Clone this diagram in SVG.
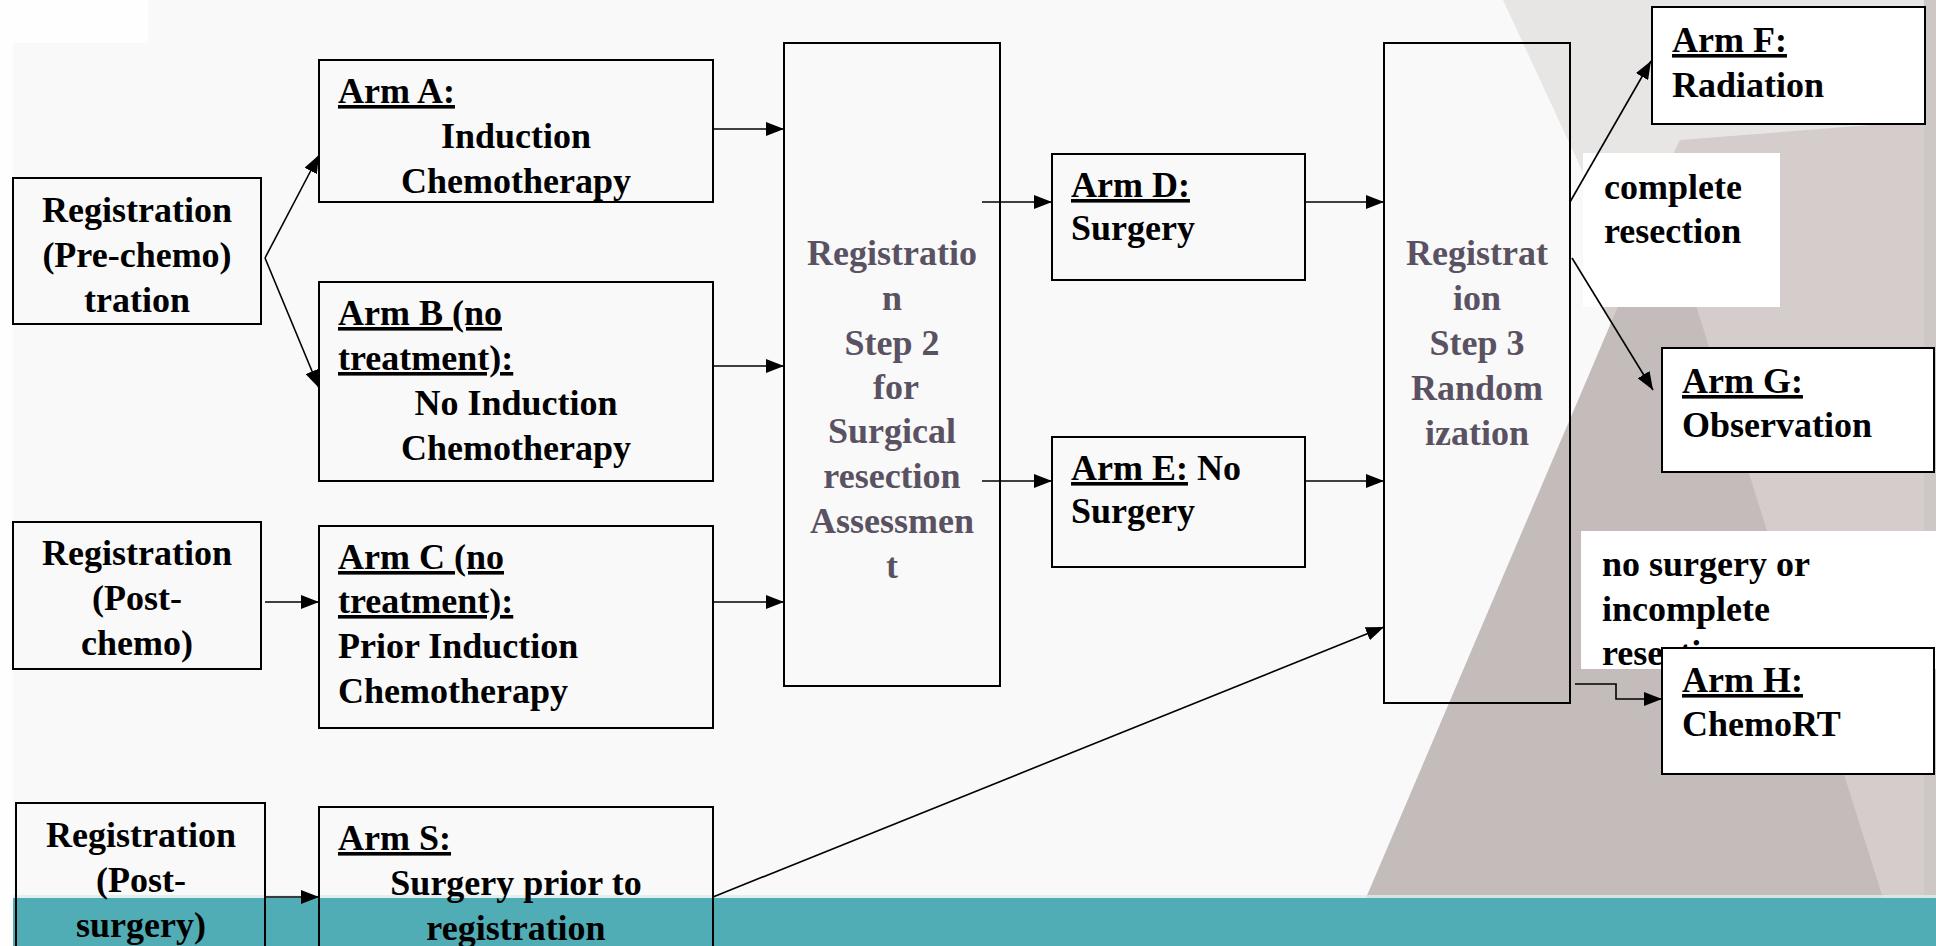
<svg xmlns="http://www.w3.org/2000/svg" width="1936" height="946" viewBox="0 0 1936 946">
<style>
.box{fill:none;stroke:#000;stroke-width:2}
.boxw{fill:#fff;stroke:#000;stroke-width:2}
.lab{fill:#fff;stroke:none}
text{font-family:"Liberation Serif","Times New Roman",serif;font-weight:bold;font-size:36px;fill:#000}
.c{text-anchor:middle}
.g{fill:#5a5262}
.u{text-decoration:underline}
.con{fill:none;stroke:#000;stroke-width:1.6}
</style>
<defs>
<marker id="arr" viewBox="0 0 18 14" refX="18" refY="7" markerWidth="18" markerHeight="14" markerUnits="userSpaceOnUse" orient="auto">
<path d="M0,0 L18,7 L0,14 z" fill="#000"/>
</marker>
</defs>
<g id="background">
<rect x="0" y="0" width="1936" height="946" fill="#f9f9f9"/>
<rect x="0" y="0" width="13" height="946" fill="#fefefe"/>
<rect x="0" y="0" width="148" height="43" fill="#fefefe"/>
<polygon points="1503,0 1936,0 1936,898 1366,898 1631,276" fill="#e8e5e5"/>
<polygon points="1600,300 1680,140 1936,120 1936,898 1883,898" fill="#d4cdcc"/>
<polygon points="1663,201 1883,898 1366,898" fill="#c4bcbb"/>
<rect x="1924" y="0" width="12" height="898" fill="#cdc7c6"/>
<rect x="13" y="898" width="1923" height="48" fill="#50adb5"/>
<rect x="13" y="895" width="1923" height="3" fill="#dcecee" opacity="0.8"/>
</g>
<g id="reg_prechemo">
<rect class="box" x="13" y="178" width="248" height="146"/>
<text class="c" x="137" y="222">Registration</text>
<text class="c" x="137" y="267">(Pre-chemo)</text>
<text class="c" x="137" y="312">tration</text>
</g>
<g id="arm_a">
<rect class="box" x="319" y="60" width="394" height="142"/>
<text class="u" x="338" y="103">Arm A:</text>
<text class="c" x="516" y="148">Induction</text>
<text class="c" x="516" y="193">Chemotherapy</text>
</g>
<g id="arm_b">
<rect class="box" x="319" y="282" width="394" height="199"/>
<text class="u" x="338" y="325">Arm B (no</text>
<text class="u" x="338" y="370">treatment):</text>
<text class="c" x="516" y="415">No Induction</text>
<text class="c" x="516" y="460">Chemotherapy</text>
</g>
<g id="reg_postchemo">
<rect class="box" x="13" y="522" width="248" height="147"/>
<text class="c" x="137" y="565">Registration</text>
<text class="c" x="137" y="610">(Post-</text>
<text class="c" x="137" y="655">chemo)</text>
</g>
<g id="arm_c">
<rect class="box" x="319" y="526" width="394" height="202"/>
<text class="u" x="338" y="569">Arm C (no</text>
<text class="u" x="338" y="613">treatment):</text>
<text x="338" y="658">Prior Induction</text>
<text x="338" y="703">Chemotherapy</text>
</g>
<g id="reg_postsurgery">
<rect class="box" x="16" y="803" width="249" height="160"/>
<text class="c" x="141" y="847">Registration</text>
<text class="c" x="141" y="892">(Post-</text>
<text class="c" x="141" y="937">surgery)</text>
</g>
<g id="arm_s">
<rect class="box" x="319" y="807" width="394" height="160"/>
<text class="u" x="338" y="850">Arm S:</text>
<text class="c" x="516" y="895">Surgery prior to</text>
<text class="c" x="516" y="940">registration</text>
</g>
<g id="step2">
<rect class="box" x="784" y="43" width="216" height="643"/>
<text class="c g" x="892" y="265">Registratio</text>
<text class="c g" x="892" y="310">n</text>
<text class="c g" x="892" y="355">Step 2</text>
<text class="c g" x="896" y="399">for</text>
<text class="c g" x="892" y="443">Surgical</text>
<text class="c g" x="892" y="488">resection</text>
<text class="c g" x="892" y="533">Assessmen</text>
<text class="c g" x="892" y="578">t</text>
</g>
<g id="arm_d">
<rect class="box" x="1052" y="154" width="253" height="126"/>
<text class="u" x="1071" y="197">Arm D:</text>
<text x="1071" y="240">Surgery</text>
</g>
<g id="arm_e">
<rect class="box" x="1052" y="437" width="253" height="130"/>
<text x="1071" y="480"><tspan class="u">Arm E:</tspan> No</text>
<text x="1071" y="523">Surgery</text>
</g>
<g id="step3">
<rect class="box" x="1384" y="43" width="186" height="660"/>
<text class="c g" x="1477" y="265">Registrat</text>
<text class="c g" x="1477" y="310">ion</text>
<text class="c g" x="1477" y="355">Step 3</text>
<text class="c g" x="1477" y="400">Random</text>
<text class="c g" x="1477" y="445">ization</text>
</g>
<g id="label_complete">
<rect class="lab" x="1583" y="153" width="197" height="154"/>
<text x="1604" y="199">complete</text>
<text x="1604" y="243">resection</text>
</g>
<g id="arm_f">
<rect class="boxw" x="1652" y="7" width="273" height="117"/>
<text class="u" x="1672" y="52">Arm F:</text>
<text x="1672" y="97">Radiation</text>
</g>
<g id="arm_g">
<rect class="boxw" x="1662" y="348" width="272" height="124"/>
<text class="u" x="1682" y="393">Arm G:</text>
<text x="1682" y="437">Observation</text>
</g>
<g id="label_nosurgery">
<rect class="lab" x="1581" y="531" width="355" height="138"/>
<text x="1602" y="576">no surgery or</text>
<text x="1602" y="621">incomplete</text>
<text x="1602" y="665">resection</text>
</g>
<g id="arm_h">
<rect class="boxw" x="1662" y="648" width="272" height="126"/>
<text class="u" x="1682" y="692">Arm H:</text>
<text x="1682" y="736">ChemoRT</text>
</g>
<g id="connectors">
<path class="con" d="M265,258 L319,155" marker-end="url(#arr)"/>
<path class="con" d="M265,258 L319,388" marker-end="url(#arr)"/>
<path class="con" d="M713,129 L784,129" marker-end="url(#arr)"/>
<path class="con" d="M713,366 L784,366" marker-end="url(#arr)"/>
<path class="con" d="M265,602 L319,602" marker-end="url(#arr)"/>
<path class="con" d="M713,602 L784,602" marker-end="url(#arr)"/>
<path class="con" d="M265,897 L319,897" marker-end="url(#arr)"/>
<path class="con" d="M713,897 L1384,627" marker-end="url(#arr)"/>
<path class="con" d="M982,202 L1052,202" marker-end="url(#arr)"/>
<path class="con" d="M982,481 L1052,481" marker-end="url(#arr)"/>
<path class="con" d="M1305,202 L1384,202" marker-end="url(#arr)"/>
<path class="con" d="M1305,481 L1384,481" marker-end="url(#arr)"/>
<path class="con" d="M1570,202 L1651,61" marker-end="url(#arr)"/>
<path class="con" d="M1572,258 L1653,390" marker-end="url(#arr)"/>
<path class="con" d="M1575,684 L1616,684 L1616,699 L1662,699" marker-end="url(#arr)"/>
</g>
</svg>
